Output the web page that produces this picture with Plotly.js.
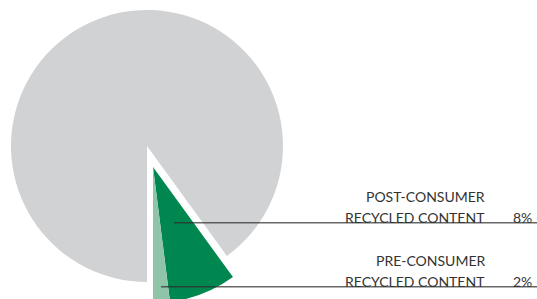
<!DOCTYPE html>
<html>
<head>
<meta charset="utf-8">
<script src="https://cdn.plot.ly/plotly-3.0.1.min.js"></script>
<style>
html,body{margin:0;padding:0;overflow:hidden;background:#fff;width:537px;height:299px;}
#chart{width:537px;height:310px;}
</style>
</head>
<body>
<div id="chart"></div>
<script>
// Data
const categories = ["POST-CONSUMER RECYCLED CONTENT", "PRE-CONSUMER RECYCLED CONTENT", "VIRGIN CONTENT"];
const values = [8, 2, 90];
const labelLine1 = ["POST-CONSUMER", "PRE-CONSUMER"];
const labelLine2 = ["RECYCLED CONTENT", "RECYCLED CONTENT"];
const percentLabels = ["8%", "2%"];

// Layout constants (pixels)
const W = 537, H = 310;
const R = 136;
const baseCenter = [147, 146];
const pulledCenter = [153, 167];

function dom(c) {
  return {
    x: [(c[0] - R) / W, (c[0] + R) / W],
    y: [1 - (c[1] + R) / H, 1 - (c[1] - R) / H]
  };
}
const px = v => v / W;
const py = v => 1 - v / H;

const grayTrace = {
  type: 'pie', labels: categories, values: values, sort: false,
  direction: 'clockwise', rotation: 144,
  marker: {colors: ['rgba(0,0,0,0)', 'rgba(0,0,0,0)', '#d1d2d4'], line: {width: 0}},
  textinfo: 'none', hoverinfo: 'none', showlegend: false,
  domain: dom(baseCenter)
};
const greenTrace = {
  type: 'pie', labels: categories, values: values, sort: false,
  direction: 'clockwise', rotation: 144,
  marker: {colors: ['#00874f', '#8fc4a8', 'rgba(0,0,0,0)'], line: {width: 0}},
  textinfo: 'none', hoverinfo: 'none', showlegend: false,
  domain: dom(pulledCenter)
};

const lineY = [222.7, 286.7];
const lineX0 = [174, 161];
const shapes = lineY.map((y, i) => ({
  type: 'line', xref: 'paper', yref: 'paper',
  x0: px(lineX0[i]), x1: px(537), y0: py(y), y1: py(y),
  line: {color: 'rgba(45,45,45,0.72)', width: 1.5}
}));

const font = {family: 'Lato, "Open Sans", sans-serif', size: 14, color: '#333333'};
const annotations = [];
lineY.forEach((y, i) => {
  annotations.push({xref: 'paper', yref: 'paper', x: px(487), y: py(y - 26.5), text: labelLine1[i],
    showarrow: false, xanchor: 'right', yanchor: 'middle', font: font});
  annotations.push({xref: 'paper', yref: 'paper', x: px(487), y: py(y - 5.5), text: labelLine2[i],
    showarrow: false, xanchor: 'right', yanchor: 'middle', font: font});
  annotations.push({xref: 'paper', yref: 'paper', x: px(534), y: py(y - 5.5), text: percentLabels[i],
    showarrow: false, xanchor: 'right', yanchor: 'middle', font: font});
});

Plotly.newPlot('chart', [grayTrace, greenTrace], {
  width: W, height: H,
  margin: {l: 0, r: 0, t: 0, b: 0},
  paper_bgcolor: '#fff', plot_bgcolor: '#fff',
  showlegend: false,
  shapes: shapes, annotations: annotations
}, {staticPlot: true});
</script>
</body>
</html>
